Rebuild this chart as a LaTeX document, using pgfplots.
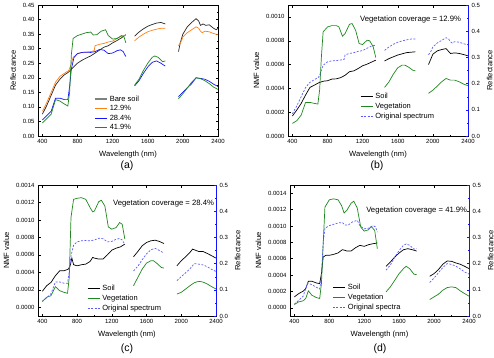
\documentclass[border=0pt]{standalone}
\usepackage{pgfplots}
\pgfplotsset{compat=1.18}
\usepackage{pgfplotstable}
\usepackage{fontspec}
\setmainfont{Liberation Sans}
\definecolor{cgreen}{RGB}{30,135,30}
\definecolor{corange}{RGB}{255,128,20}
\definecolor{cblue}{RGB}{20,20,255}
\definecolor{cdash}{RGB}{90,90,255}

\pgfplotstableread{
x y
400 0.075
450 0.105
500 0.140
550 0.175
600 0.195
650 0.210
700 0.220
750 0.235
800 0.250
850 0.260
900 0.268
950 0.275
1000 0.285
1050 0.295
1100 0.305
1150 0.310
1200 0.320
1250 0.328
1300 0.337
1350 0.348
1400 nan
1450 0.343
1500 0.357
1550 0.368
1600 0.377
1650 0.383
1700 0.388
1750 0.390
1800 0.385
1875 nan
1950 0.290
1970 0.320
2000 0.350
2050 0.375
2100 0.390
2150 0.403
2180 0.395
2200 0.380
2230 0.385
2260 0.380
2300 0.382
2350 0.370
2380 0.365
2400 0.370
}\tBare

\pgfplotstableread{
x y
400 0.085
450 0.115
500 0.150
550 0.185
600 0.205
650 0.215
700 0.225
720 0.240
750 0.270
800 0.283
850 0.287
900 0.288
950 0.290
990 0.293
1000 0.310
1050 0.315
1100 0.318
1150 0.323
1200 0.326
1250 0.335
1300 0.343
1350 0.347
1400 nan
1450 0.327
1500 0.340
1550 0.350
1600 0.358
1650 0.363
1700 0.367
1750 0.370
1800 0.370
1875 nan
1950 0.310
1980 0.325
2000 0.340
2050 0.355
2100 0.365
2150 0.375
2180 0.370
2200 0.360
2220 0.355
2250 0.360
2300 0.358
2350 0.352
2400 0.348
}\tOrange

\pgfplotstableread{
x y
400 0.055
450 0.070
500 0.085
550 0.130
600 0.130
650 0.125
690 0.125
710 0.170
730 0.230
760 0.270
800 0.283
850 0.287
900 0.288
950 0.287
1000 0.290
1050 0.297
1100 0.295
1150 0.283
1200 0.285
1250 0.293
1290 0.296
1320 0.290
1350 0.273
1400 nan
1450 0.172
1500 0.190
1550 0.215
1600 0.237
1650 0.253
1700 0.258
1750 0.250
1800 0.240
1875 nan
1950 0.135
2000 0.150
2050 0.165
2100 0.180
2150 0.200
2200 0.198
2250 0.195
2300 0.188
2350 0.178
2400 0.170
}\tBlue

\pgfplotstableread{
x y
400 0.045
450 0.060
500 0.075
550 0.125
600 0.120
650 0.110
690 0.103
710 0.150
730 0.280
750 0.335
800 0.345
850 0.350
900 0.355
950 0.357
980 0.347
1020 0.348
1070 0.360
1120 0.365
1150 0.345
1200 0.333
1250 0.335
1300 0.345
1330 0.340
1350 0.320
1400 nan
1450 0.175
1500 0.195
1550 0.225
1600 0.250
1650 0.270
1680 0.275
1720 0.270
1770 0.255
1800 0.258
1875 nan
1950 0.128
2000 0.145
2050 0.165
2100 0.185
2150 0.200
2200 0.197
2250 0.190
2300 0.180
2350 0.168
2400 0.160
}\tGreen

\pgfplotstableread{
x y
400 0.000168
450 0.000218
500 0.000274
550 0.000344
600 0.000408
650 0.000427
700 0.000447
750 0.000460
800 0.000464
850 0.000478
900 0.000480
950 0.000490
1000 0.000510
1050 0.000540
1100 0.000547
1150 0.000567
1200 0.000590
1250 0.000603
1300 0.000620
1350 0.000637
1400 nan
1450 0.000630
1500 0.000650
1600 0.000680
1700 0.000700
1800 0.000707
1875 nan
1950 0.000600
2000 0.000687
2050 0.000715
2100 0.000726
2150 0.000734
2200 0.000693
2250 0.000698
2300 0.000693
2350 0.000684
2400 0.000673
}\tSoilB

\pgfplotstableread{
x y
400 0.000106
450 0.000128
500 0.000176
550 0.000282
600 0.000282
650 0.000274
690 0.000268
710 0.000385
730 0.000660
750 0.000874
800 0.000916
850 0.000927
900 0.000927
930 0.000916
970 0.000838
1000 0.000860
1050 0.000938
1080 0.000944
1120 0.000888
1160 0.000776
1200 0.000768
1250 0.000804
1280 0.000800
1320 0.000749
1350 0.000659
1400 nan
1450 0.000408
1500 0.000455
1550 0.000520
1600 0.000573
1650 0.000595
1680 0.000595
1720 0.000580
1770 0.000553
1800 0.000547
1875 nan
1950 0.000358
2000 0.000385
2050 0.000419
2100 0.000455
2150 0.000483
2200 0.000469
2250 0.000469
2300 0.000455
2350 0.000436
2400 0.000422
}\tVegB

\pgfplotstableread{
x y
400 0.000183
450 0.000247
500 0.000285
550 0.000361
600 0.000418
650 0.000418
700 0.000437
720 0.000475
740 0.000563
760 0.000487
800 0.000475
850 0.000487
900 0.000494
950 0.000525
980 0.000571
1000 0.000563
1050 0.000552
1100 0.000552
1150 0.000601
1200 0.000654
1250 0.000677
1300 0.000692
1350 0.000723
1400 nan
1450 0.000578
1500 0.000639
1550 0.000704
1600 0.000742
1650 0.000761
1700 0.000768
1750 0.000753
1800 0.000730
1875 nan
1950 0.000475
2000 0.000533
2050 0.000578
2100 0.000628
2130 0.000666
2200 0.000639
2250 0.000639
2300 0.000616
2350 0.000590
2400 0.000563
}\tSoilC

\pgfplotstableread{
x y
400 0.0000685
450 0.000114
500 0.000133
550 0.000236
600 0.000190
650 0.000171
690 0.000160
710 0.000342
730 0.001030
760 0.001236
800 0.001248
850 0.001255
900 0.001236
950 0.001141
980 0.001092
1000 0.001103
1050 0.001210
1080 0.001225
1120 0.001160
1160 0.000920
1200 0.000894
1250 0.000913
1290 0.000970
1320 0.000950
1350 0.000780
1400 nan
1450 0.000247
1500 0.000342
1550 0.000437
1600 0.000506
1650 0.000533
1680 0.000533
1720 0.000502
1770 0.000456
1800 0.000449
1875 nan
1950 0.000152
2000 0.000171
2050 0.000209
2100 0.000247
2150 0.000281
2200 0.000297
2250 0.000289
2300 0.000266
2350 0.000236
2400 0.000209
}\tVegC

\pgfplotstableread{
x y
400 0.000134
450 0.000174
500 0.000203
530 0.000235
560 0.000325
600 0.000325
650 0.000304
690 0.000296
710 0.000418
730 0.000620
760 0.000641
800 0.000641
850 0.000653
900 0.000670
950 0.000710
980 0.000702
1000 0.000694
1050 0.000694
1100 0.000734
1150 0.000763
1200 0.000751
1250 0.000771
1300 0.000783
1350 0.000791
1400 nan
1450 0.000507
1500 0.000560
1550 0.000621
1600 0.000670
1650 0.000710
1700 0.000722
1750 0.000710
1800 0.000694
1875 nan
1950 0.000385
2000 0.000418
2050 0.000467
2100 0.000532
2150 0.000572
2200 0.000568
2250 0.000548
2300 0.000532
2350 0.000507
2400 0.000479
}\tSoilD

\pgfplotstableread{
x y
400 0.0000406
450 0.000073
500 0.000085
530 0.000114
560 0.000207
600 0.000154
650 0.000126
690 0.000114
710 0.000296
730 0.000783
750 0.001230
800 0.001319
850 0.001331
900 0.001319
940 0.001250
970 0.001157
1000 0.001189
1050 0.001278
1080 0.001302
1120 0.001220
1160 0.000986
1200 0.000937
1250 0.000954
1280 0.000994
1320 0.000945
1350 0.000722
1400 nan
1450 0.000195
1500 0.000256
1550 0.000337
1600 0.000418
1650 0.000479
1680 0.000507
1720 0.000479
1770 0.000410
1800 0.000406
1875 nan
1950 0.000101
2000 0.000134
2050 0.000166
2100 0.000215
2150 0.000247
2200 0.000256
2250 0.000247
2300 0.000207
2350 0.000174
2400 0.000142
}\tVegD

\tikzset{annot/.style={anchor=west, font=\fontsize{7.7}{8.5}\selectfont, inner sep=0pt}}

\pgfplotsset{
 base/.style={scale only axis, height=131pt, xmin=350, xmax=2400,
  xtick={400,800,1200,1600,2000,2400}, minor x tick num=1, minor y tick num=1,
  tick align=inside, major tick length=2.5pt, minor tick length=1.4pt,
  tick style={black, line width=0.4pt}, axis line style={line width=0.5pt},
  tick label style={font=\fontsize{6}{7}\selectfont},
  /pgf/number format/assume math mode=true,
  xticklabel style={/pgf/number format/1000 sep={}},
  label style={font=\fontsize{7.6}{8}\selectfont},
  xlabel={Wavelength (nm)}, unbounded coords=jump,
  every axis plot/.append style={line width=0.7pt, mark=none},
  legend cell align=left,
  legend style={draw=none, fill=none, font=\fontsize{7.5}{8}\selectfont, anchor=north west, row sep=-1.2pt, inner sep=0pt},
  legend image code/.code={\draw[##1] (0pt,0pt) -- (12.5pt,0pt);},
  scaled ticks=false},
 lax/.style={ytick pos=left, xtick pos=both,
  yticklabel style={/pgf/number format/fixed, /pgf/number format/fixed zerofill, /pgf/number format/precision=4},
  ylabel={NMF value}},
 rax/.style={axis x line=none, axis y line*=right, ymin=0, ymax=0.5,
  ytick={0,0.1,0.2,0.3,0.4,0.5}, y axis line style={cblue, line width=0.7pt},
  ytick style={cblue},
  yticklabel style={/pgf/number format/fixed, /pgf/number format/fixed zerofill, /pgf/number format/precision=1},
  ylabel={Reflectance}},
}

\begin{document}
\begin{tikzpicture}
\useasboundingbox (0,0) rectangle (494pt,357pt);

% (a)
\begin{axis}[base, width=180pt, at={(38pt,221pt)}, anchor=south west,
  ymin=0, ymax=0.45, ytick={0,0.05,0.1,0.15,0.2,0.25,0.3,0.35,0.4,0.45},
  yticklabel style={/pgf/number format/fixed, /pgf/number format/fixed zerofill, /pgf/number format/precision=2},
  ylabel={Reflectance}, legend style={at={(0.31,0.325)}}]
\addplot[black!85, forget plot] table {\tBare};
\addlegendimage{gray, line width=1.3pt}\addlegendentry{Bare soil}
\addplot[corange] table {\tOrange}; \addlegendentry{12.9\%}
\addplot[cblue] table {\tBlue}; \addlegendentry{28.4\%}
\addplot[cgreen] table {\tGreen}; \addlegendentry{41.9\%}
\end{axis}

% (b)
\begin{axis}[base, lax, width=180pt, at={(288pt,221pt)}, anchor=south west,
  ymin=0, ymax=0.0011, ytick={0,0.0002,0.0004,0.0006,0.0008,0.001}]
\addplot[black] table {\tSoilB};
\addplot[cgreen] table {\tVegB};
\node[annot] at (rel axis cs:0.40,0.893) {Vegetation coverage = 12.9\%};
\end{axis}
\begin{axis}[base, rax, width=180pt, at={(288pt,221pt)}, anchor=south west,
  legend style={at={(0.40,0.343)}}]
\addlegendimage{black, line width=0.7pt}\addlegendentry{Soil}
\addlegendimage{cgreen, line width=0.7pt}\addlegendentry{Vegetation}
\addplot[cdash, dash pattern=on 2pt off 1.5pt] table {\tOrange}; \addlegendentry{Original spectrum}
\end{axis}

% (c)
\begin{axis}[base, lax, width=178pt, at={(38pt,41pt)}, anchor=south west,
  ymin=-0.0001, ymax=0.0014, ytick={0,0.0002,0.0004,0.0006,0.0008,0.001,0.0012,0.0014}]
\addplot[black] table {\tSoilC};
\addplot[cgreen] table {\tVegC};
\node[annot] at (rel axis cs:0.421,0.855) {Vegetation coverage = 28.4\%};
\end{axis}
\begin{axis}[base, rax, width=178pt, at={(38pt,41pt)}, anchor=south west,
  legend style={at={(0.275,0.252)}}]
\addlegendimage{black, line width=0.7pt}\addlegendentry{Soil}
\addlegendimage{cgreen, line width=0.7pt}\addlegendentry{Vegetation}
\addplot[cdash, dash pattern=on 2pt off 1.5pt] table {\tBlue}; \addlegendentry{Original spectrum}
\end{axis}

% (d)
\begin{axis}[base, lax, width=179pt, at={(290pt,41pt)}, anchor=south west,
  ymin=-0.0001, ymax=0.0015, ytick={0,0.0002,0.0004,0.0006,0.0008,0.001,0.0012,0.0014}]
\addplot[black] table {\tSoilD};
\addplot[cgreen] table {\tVegD};
\node[annot] at (rel axis cs:0.425,0.809) {Vegetation coverage = 41.9\%};
\end{axis}
\begin{axis}[base, rax, width=179pt, at={(290pt,41pt)}, anchor=south west,
  legend style={at={(0.235,0.26)}}]
\addlegendimage{black, line width=0.7pt}\addlegendentry{Soil}
\addlegendimage{cgreen, line width=1.2pt}\addlegendentry{Vegetation}
\addplot[cdash, dash pattern=on 2pt off 1.5pt] table {\tGreen}; \addlegendentry{Original spectra}
\end{axis}

\node[font=\fontsize{10.5}{12}\selectfont] at (127pt,191pt) {(a)};
\node[font=\fontsize{10.5}{12}\selectfont] at (377pt,191pt) {(b)};
\node[font=\fontsize{10.5}{12}\selectfont] at (127pt,8pt) {(c)};
\node[font=\fontsize{10.5}{12}\selectfont] at (380pt,8pt) {(d)};
\end{tikzpicture}
\end{document}
